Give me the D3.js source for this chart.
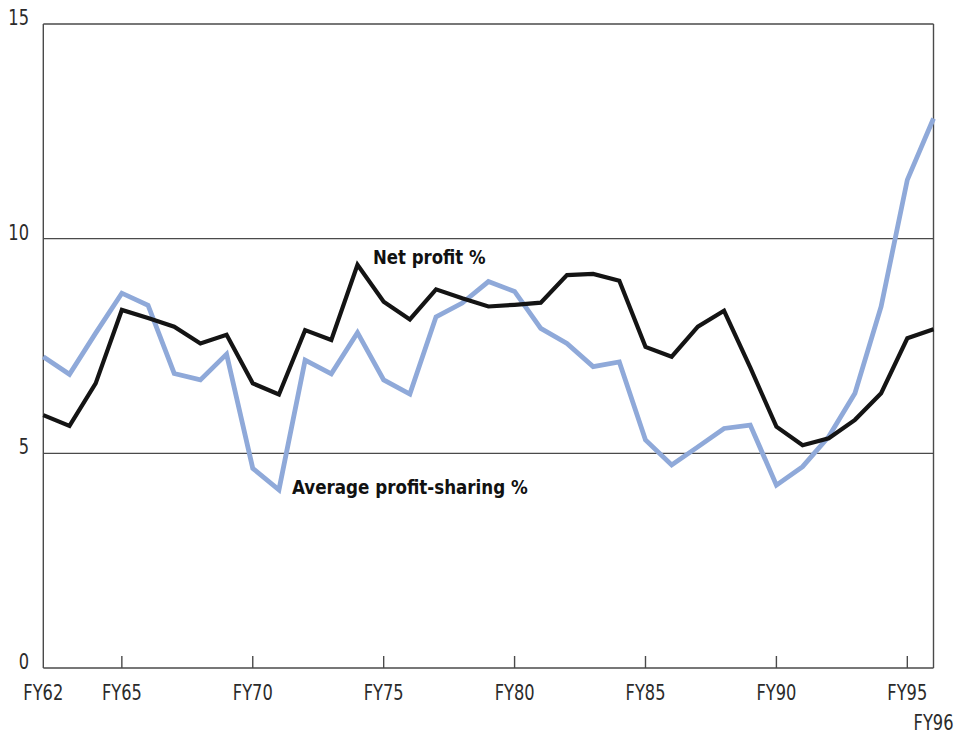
<!DOCTYPE html>
<html>
<head>
<meta charset="utf-8">
<script src="https://cdn.jsdelivr.net/npm/d3@7"></script>
<style>
  html, body { margin: 0; padding: 0; background: #ffffff; }
  svg { display: block; }
  .tick-label { font-family: "Liberation Sans Narrow", "Arial Narrow", "DejaVu Sans Condensed", sans-serif; fill: #2b2b2b; }
  .series-label { font-family: "Liberation Sans Narrow", "Arial Narrow", "DejaVu Sans Condensed", sans-serif; font-weight: bold; fill: #111; }
</style>
</head>
<body>
<svg id="chart" width="961" height="736"></svg>
<script>
// ---- Data ----
const years = [1962,1963,1964,1965,1966,1967,1968,1969,1970,1971,1972,1973,1974,1975,1976,1977,1978,1979,1980,1981,1982,1983,1984,1985,1986,1987,1988,1989,1990,1991,1992,1993,1994,1995,1996];
const netProfit = [5.89,5.64,6.63,8.34,8.15,7.95,7.56,7.76,6.63,6.37,7.87,7.64,9.39,8.53,8.12,8.82,8.61,8.42,8.46,8.51,9.15,9.18,9.02,7.48,7.25,7.95,8.32,7.0,5.62,5.19,5.35,5.78,6.40,7.68,7.89];
const profitSharing = [7.25,6.84,7.8,8.73,8.45,6.86,6.71,7.31,4.65,4.15,7.17,6.85,7.81,6.71,6.38,8.18,8.5,9.0,8.77,7.91,7.56,7.02,7.13,5.31,4.73,5.15,5.58,5.66,4.26,4.69,5.39,6.40,8.42,11.37,12.8];
const yTicks = [0,5,10,15];
const xTickYears = [1962,1965,1970,1975,1980,1985,1990,1995,1996];
const xTickLabels = ["FY62","FY65","FY70","FY75","FY80","FY85","FY90","FY95","FY96"];
const seriesLabels = ["Net profit %","Average profit-sharing %"];

// ---- Layout ----
const svg = d3.select("#chart");
const mLeft = 43.3, mRight = 933.5, mTop = 24, mBottom = 668;
const x = d3.scaleLinear().domain([1962,1996]).range([mLeft,mRight]);
const y = d3.scaleLinear().domain([0,15]).range([mBottom,mTop]);
const axisColor = "#4a4a4a";

// gridlines (including top frame at 15)
svg.append("g").selectAll("line").data(yTicks.filter(d => d > 0)).join("line")
  .attr("x1", mLeft).attr("x2", mRight)
  .attr("y1", d => y(d)).attr("y2", d => y(d))
  .attr("stroke", axisColor).attr("stroke-width", 1.4);

// left axis, right frame, bottom axis
svg.append("line").attr("x1", mLeft).attr("x2", mLeft).attr("y1", y(15)).attr("y2", y(0))
  .attr("stroke", axisColor).attr("stroke-width", 1.4);
svg.append("line").attr("x1", mRight).attr("x2", mRight).attr("y1", y(15)).attr("y2", y(0))
  .attr("stroke", axisColor).attr("stroke-width", 1.4);
svg.append("line").attr("x1", mLeft).attr("x2", mRight).attr("y1", y(0)).attr("y2", y(0))
  .attr("stroke", axisColor).attr("stroke-width", 1.4);

// x ticks (upward)
svg.append("g").selectAll("line").data(xTickYears.filter(d => d !== 1962 && d !== 1996)).join("line")
  .attr("x1", d => x(d)).attr("x2", d => x(d))
  .attr("y1", y(0)).attr("y2", y(0) - 12)
  .attr("stroke", axisColor).attr("stroke-width", 1.4);

// y tick labels (condensed)
svg.append("g").selectAll("text").data(yTicks).join("text")
  .attr("class", "tick-label")
  .attr("transform", d => `translate(29,${y(d) + 1}) scale(0.86,1)`)
  .attr("text-anchor", "end")
  .attr("font-size", 21)
  .text(d => d);

// x tick labels (condensed)
svg.append("g").selectAll("text").data(xTickYears).join("text")
  .attr("class", "tick-label")
  .attr("transform", (d, i) => `translate(${x(d)},${xTickLabels[i] === "FY96" ? 730 : 700}) scale(0.86,1)`)
  .attr("text-anchor", "middle")
  .attr("font-size", 21)
  .text((d, i) => xTickLabels[i]);

// lines
const lineGen = vals => d3.line().x((d, i) => x(years[i])).y(d => y(d))(vals);

svg.append("path").attr("d", lineGen(profitSharing))
  .attr("fill", "none").attr("stroke", "#8fa9d9").attr("stroke-width", 4.8)
  .attr("stroke-linejoin", "miter");
svg.append("path").attr("d", lineGen(netProfit))
  .attr("fill", "none").attr("stroke", "#141414").attr("stroke-width", 4.2)
  .attr("stroke-linejoin", "miter");

// series labels
svg.append("text").attr("class", "series-label")
  .attr("transform", "translate(373,264) scale(0.92,1)").attr("font-size", 20)
  .text(seriesLabels[0]);
svg.append("text").attr("class", "series-label")
  .attr("transform", "translate(292,494) scale(0.93,1)").attr("font-size", 20)
  .text(seriesLabels[1]);
</script>
</body>
</html>
